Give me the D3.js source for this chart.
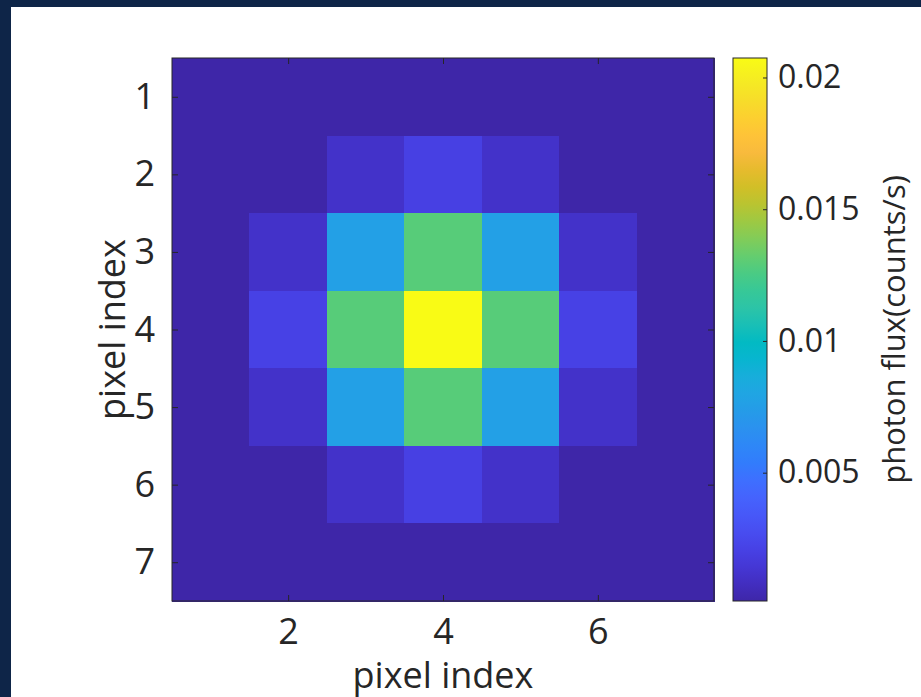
<!DOCTYPE html>
<html>
<head>
<meta charset="utf-8">
<script src="https://cdn.jsdelivr.net/npm/d3@7"></script>
<style>
  html, body { margin: 0; padding: 0; background: #0e2548; }
  svg { display: block; }
  text { font-family: "Open Sans", "Noto Sans", sans-serif; fill: #262626; }
</style>
</head>
<body>
<div id="chart"></div>
<script>
// Chart data: 7x7 pixel grid of photon flux (counts/s).
const rowIndex = [1, 2, 3, 4, 5, 6, 7];
const colIndex = [1, 2, 3, 4, 5, 6, 7];
const row1 = [0.00013, 0.00013, 0.00013, 0.00013, 0.00013, 0.00013, 0.00013];
const row2 = [0.00013, 0.00013, 0.00106, 0.0020, 0.00106, 0.00013, 0.00013];
const row3 = [0.00013, 0.00106, 0.00765, 0.0129, 0.00765, 0.00106, 0.00013];
const row4 = [0.00013, 0.0021, 0.0129, 0.02074, 0.0129, 0.0021, 0.00013];
const row5 = [0.00013, 0.00106, 0.00765, 0.0129, 0.00765, 0.00106, 0.00013];
const row6 = [0.00013, 0.00013, 0.00106, 0.0020, 0.00106, 0.00013, 0.00013];
const row7 = [0.00013, 0.00013, 0.00013, 0.00013, 0.00013, 0.00013, 0.00013];
const rows = [row1, row2, row3, row4, row5, row6, row7];

const xTicks = [2, 4, 6];
const yTicks = [1, 2, 3, 4, 5, 6, 7];
const colorTicks = [0.005, 0.01, 0.015, 0.02];
const colorMin = 0.00013;
const colorMax = 0.02074;

// Parula colormap (MATLAB R2014b), every other entry of the 64-row table.
const parulaIdx = [0, 2, 4, 6, 8, 10, 12, 14, 16, 18, 20, 22, 24, 26, 28, 30,
  32, 34, 36, 38, 40, 42, 44, 46, 48, 50, 52, 54, 56, 58, 60, 62, 63];
const parula = [
  "#3e26a8", "#422ec0", "#4537d5", "#4741e5", "#484df0", "#4758f8", "#4563fd", "#3e6fff",
  "#327cfc", "#2e87f7", "#2b91ef", "#259be8", "#20a5e3", "#18addb", "#08b5d0", "#02bac3",
  "#19bfb6", "#2cc4a7", "#37c897", "#4acb84", "#64cd6f", "#81cc59", "#9dc943", "#b9c431",
  "#d1bf27", "#e6bb2d", "#f8ba3d", "#fec338", "#fccf30", "#f7dc2a", "#f5e924", "#f7f51b",
  "#f9fb15"
];
const parulaPos = parulaIdx.map(i => i / 63);

const width = 921;
const height = 697;
const plot = { left: 172, right: 714, top: 58, bottom: 601 };
const cbar = { left: 733, right: 767 };

const frac = d3.scaleLinear().domain([colorMin, colorMax]).range([0, 1]).clamp(true);
const cmap = d3.scaleLinear().domain(parulaPos).range(parula);
const color = v => cmap(frac(v));

const svg = d3.select("#chart").append("svg")
    .attr("width", width)
    .attr("height", height);

// White figure panel on the dark slide background.
svg.append("rect")
    .attr("x", 11).attr("y", 7)
    .attr("width", width - 11).attr("height", height - 7)
    .attr("fill", "#ffffff");

const x = d3.scaleLinear().domain([0.5, 7.5]).range([plot.left, plot.right]);
const y = d3.scaleLinear().domain([0.5, 7.5]).range([plot.top, plot.bottom]);

const cells = [];
rows.forEach((r, i) => r.forEach((v, j) => cells.push({ row: rowIndex[i], col: colIndex[j], value: v })));

svg.append("g")
    .attr("shape-rendering", "crispEdges")
    .selectAll("rect")
    .data(cells)
    .join("rect")
    .attr("x", d => x(d.col - 0.5))
    .attr("y", d => y(d.row - 0.5))
    .attr("width", d => x(d.col + 0.5) - x(d.col - 0.5) + 1)
    .attr("height", d => y(d.row + 0.5) - y(d.row - 0.5) + 1)
    .attr("fill", d => color(d.value));

// Axes with inward ticks on all four sides.
const axisStyle = g => {
    g.select(".domain").remove();
    g.selectAll("line").attr("stroke", "#262626").attr("stroke-width", 1);
    g.selectAll("text").style("font-size", "36px").attr("fill", "#262626");
};

svg.append("g")
    .attr("transform", `translate(0,${plot.bottom})`)
    .call(d3.axisBottom(x).tickValues(xTicks).tickFormat(d3.format("d")).tickSizeInner(-6).tickSizeOuter(0).tickPadding(17))
    .call(axisStyle);

svg.append("g")
    .attr("transform", `translate(0,${plot.top})`)
    .call(d3.axisTop(x).tickValues(xTicks).tickSizeInner(-6).tickSizeOuter(0).tickFormat(""))
    .call(axisStyle);

svg.append("g")
    .attr("transform", `translate(${plot.left},0)`)
    .call(d3.axisLeft(y).tickValues(yTicks).tickFormat(d3.format("d")).tickSizeInner(-6).tickSizeOuter(0).tickPadding(17))
    .call(axisStyle);

svg.append("g")
    .attr("transform", `translate(${plot.right},0)`)
    .call(d3.axisRight(y).tickValues(yTicks).tickSizeInner(-6).tickSizeOuter(0).tickFormat(""))
    .call(axisStyle);

svg.append("rect")
    .attr("x", plot.left).attr("y", plot.top)
    .attr("width", plot.right - plot.left).attr("height", plot.bottom - plot.top)
    .attr("fill", "none").attr("stroke", "#262626").attr("stroke-width", 1);

// Axis labels.
svg.append("text")
    .attr("x", (plot.left + plot.right) / 2)
    .attr("y", 688)
    .attr("text-anchor", "middle")
    .style("font-size", "36px")
    .text("pixel index");

svg.append("text")
    .attr("transform", `translate(125,${(plot.top + plot.bottom) / 2}) rotate(-90)`)
    .attr("text-anchor", "middle")
    .style("font-size", "36px")
    .text("pixel index");

// Colorbar.
const cy = d3.scaleLinear().domain([colorMin, colorMax]).range([plot.bottom, plot.top]);

const grad = svg.append("defs").append("linearGradient")
    .attr("id", "parula")
    .attr("x1", 0).attr("y1", 1).attr("x2", 0).attr("y2", 0);
grad.selectAll("stop")
    .data(parula)
    .join("stop")
    .attr("offset", (d, i) => parulaPos[i])
    .attr("stop-color", d => d);

svg.append("rect")
    .attr("x", cbar.left).attr("y", plot.top)
    .attr("width", cbar.right - cbar.left).attr("height", plot.bottom - plot.top)
    .attr("fill", "url(#parula)")
    .attr("stroke", "#262626").attr("stroke-width", 1);

svg.append("g")
    .attr("transform", `translate(${cbar.right},0)`)
    .call(d3.axisRight(cy).tickValues(colorTicks).tickSizeInner(-4).tickSizeOuter(0).tickPadding(11).tickFormat(d3.format("~g")))
    .call(g => {
        g.select(".domain").remove();
        g.selectAll("line").attr("stroke", "#262626");
        g.selectAll("text").style("font-size", "32px").attr("fill", "#262626");
    });

svg.append("text")
    .attr("transform", `translate(905,${(plot.top + plot.bottom) / 2}) rotate(-90)`)
    .attr("text-anchor", "middle")
    .style("font-size", "31px")
    .text("photon flux(counts/s)");
</script>
</body>
</html>
